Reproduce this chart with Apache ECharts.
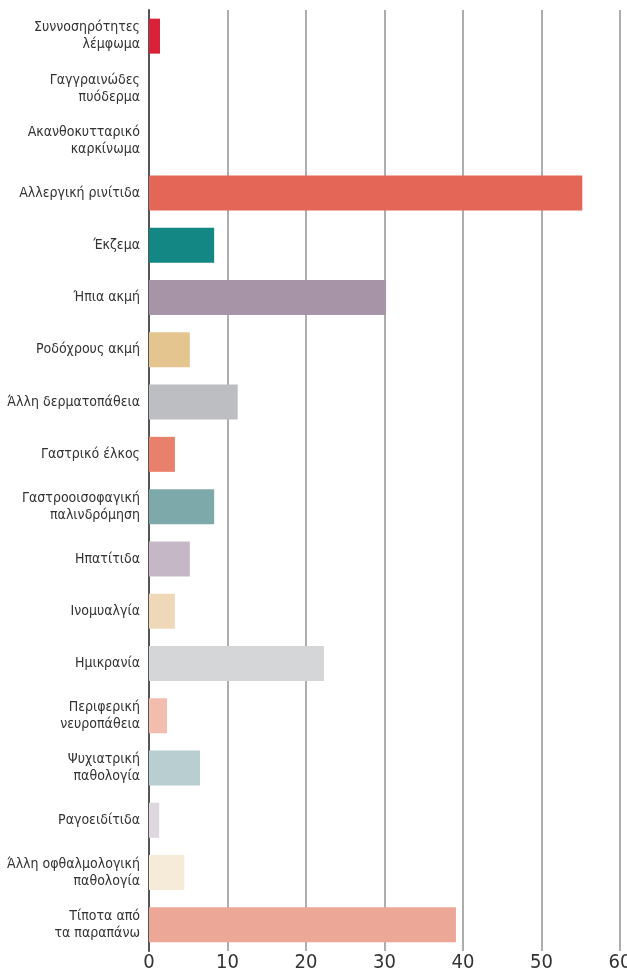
<!DOCTYPE html>
<html>
<head>
<meta charset="utf-8">
<script src="https://cdn.jsdelivr.net/npm/echarts@6/dist/echarts.min.js"></script>
<style>
html,body{margin:0;padding:0;background:#fff;}
#c{width:627px;height:973px;}
</style>
</head>
<body>
<div id="c"></div>
<script>
const categories = [
  "Συννοσηρότητες\nλέμφωμα",
  "Γαγγραινώδες\nπυόδερμα",
  "Ακανθοκυτταρικό\nκαρκίνωμα",
  "Αλλεργική ρινίτιδα",
  "Έκζεμα",
  "Ήπια ακμή",
  "Ροδόχρους ακμή",
  "Άλλη δερματοπάθεια",
  "Γαστρικό έλκος",
  "Γαστροοισοφαγική\nπαλινδρόμηση",
  "Ηπατίτιδα",
  "Ινομυαλγία",
  "Ημικρανία",
  "Περιφερική\nνευροπάθεια",
  "Ψυχιατρική\nπαθολογία",
  "Ραγοειδίτιδα",
  "Άλλη οφθαλμολογική\nπαθολογία",
  "Τίποτα από\nτα παραπάνω"
];
const values = [1.4, 0, 0, 55.2, 8.3, 30.2, 5.2, 11.3, 3.3, 8.3, 5.2, 3.3, 22.3, 2.3, 6.5, 1.3, 4.5, 39.1];
const colors = ["#d9223a", "#cccccc", "#cccccc", "#e36657", "#128784", "#a794a7", "#e4c58f", "#bdbec2", "#e8806c", "#7ea9aa", "#c6b7c6", "#eed8b8", "#d5d6d8", "#f2bcae", "#b9ced1", "#ded7df", "#f6ebd9", "#eda797"];
const xTicks = { min: 0, max: 60, interval: 10 };

const FONT = '"Liberation Sans Narrow", "DejaVu Sans Condensed", "Roboto", sans-serif';
const chart = echarts.init(document.getElementById('c'), null, { renderer: 'canvas' });
chart.setOption({
  animation: false,
  backgroundColor: '#ffffff',
  grid: { left: 149, right: 7, top: 10, bottom: 22, containLabel: false, outerBoundsMode: 'none' },
  xAxis: {
    type: 'value',
    min: xTicks.min, max: xTicks.max, interval: xTicks.interval,
    axisLine: { show: false },
    axisTick: { show: false },
    splitLine: { show: true, lineStyle: { color: '#999999', width: 1.6 } },
    axisLabel: { color: '#333333', fontSize: 20, fontFamily: FONT, margin: 2 }
  },
  yAxis: {
    type: 'category',
    inverse: true,
    data: categories,
    axisLine: { show: true, lineStyle: { color: '#555555', width: 2 } },
    axisTick: { show: false },
    axisLabel: { color: '#333333', fontSize: 14, lineHeight: 17, fontFamily: FONT, margin: 9, align: 'right' }
  },
  series: [{
    type: 'bar',
    barWidth: 35,
    data: values.map((v, i) => ({ value: v, itemStyle: { color: colors[i] } })),
    z: 3
  }]
});
</script>
</body>
</html>
